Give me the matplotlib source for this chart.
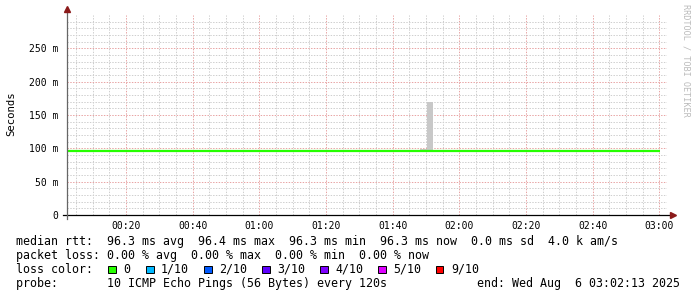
#!/usr/bin/env python3
"""SmokePing style latency chart (rrdtool look)."""

from datetime import datetime

import matplotlib

matplotlib.use("Agg")
import matplotlib.dates as mdates
import matplotlib.pyplot as plt
import numpy as np
from matplotlib.patches import Rectangle
from matplotlib.ticker import FixedLocator, FuncFormatter

DAY = "2025-08-06 "

# data window (3 hours ending at the graph end time)
window = ["00:02:13", "03:02:13"]

# median rtt line (seconds)
median_times = ["00:02:13", "03:00:13"]
median_rtt = [0.0963, 0.0963]

# smoke (min / max ping per 120 s step, seconds)
smoke_times = ["01:48:13", "01:50:13", "01:52:13"]
smoke_lo = [0.0963, 0.0963, 0.0963]
smoke_hi = [0.0990, 0.1695, 0.0963]

loss_labels = ["0", "1/10", "2/10", "3/10", "4/10", "5/10", "9/10"]
loss_colors = ["#26ff00", "#00b8ff", "#0059ff", "#5e00ff", "#7e00ff", "#dd00ff", "#ff0000"]

rows = [
    "median rtt:  96.3 ms avg  96.4 ms max  96.3 ms min  96.3 ms now  0.0 ms sd  4.0 k am/s",
    "packet loss: 0.00 % avg  0.00 % max  0.00 % min  0.00 % now",
    "loss color:",
    "probe:       10 ICMP Echo Pings (56 Bytes) every 120s",
]
end_text = "end: Wed Aug  6 03:02:13 2025"


def to_dt(values):
    return [datetime.strptime(DAY + v, "%Y-%m-%d %H:%M:%S") for v in values]


W, H = 697, 297
MONO = "DejaVu Sans Mono"


def fx(px):
    return px / W


def fy(py):
    return 1 - py / H


fig = plt.figure(figsize=(W / 100, H / 100), dpi=100)
fig.patch.set_facecolor("white")
ax = fig.add_axes([fx(66.7), fy(215), 600 / W, 200 / H])

x0, x1 = to_dt(window)
ax.set_xlim(x0, x1)
ax.set_ylim(0, 0.3)

# grid (rrdtool leaves out the line on the top edge)
ax.xaxis.set_major_locator(mdates.MinuteLocator(byminute=[0, 20, 40]))
ax.xaxis.set_minor_locator(mdates.MinuteLocator(byminute=range(0, 60, 5)))
ax.xaxis.set_major_formatter(mdates.DateFormatter("%H:%M"))
ax.yaxis.set_major_locator(FixedLocator(np.arange(0, 0.26, 0.05)))
ax.yaxis.set_minor_locator(FixedLocator(np.arange(0.01, 0.295, 0.01)))
ax.yaxis.set_major_formatter(
    FuncFormatter(lambda v, p: "0" if abs(v) < 1e-9 else f"{v * 1000:.0f} m")
)
dots = (0, (1.4, 1.4))
ax.grid(which="minor", color="#cfcfcf", lw=0.72, linestyle=dots)
ax.grid(which="major", color="#e8a4a4", lw=0.72, linestyle=dots)
ax.set_axisbelow(True)

for s in ax.spines.values():
    s.set_visible(False)
ax.tick_params(which="both", length=0)
ax.tick_params(axis="x", which="major", pad=4, labelsize=7)
ax.tick_params(axis="y", which="major", pad=6, labelsize=7)
for lab in ax.get_xticklabels() + ax.get_yticklabels():
    lab.set_family(MONO)

# smoke and median
st = to_dt(smoke_times)
ax.fill_between(st, smoke_lo, smoke_hi, step="post", color="#c8c8c8", lw=0, zorder=2)
ax.plot(to_dt(median_times), median_rtt, color=loss_colors[0], lw=1.6,
        solid_capstyle="butt", zorder=3)

# axis lines with arrows
ax.plot([-4 / 600, 1 + 5 / 600], [0, 0], transform=ax.transAxes, color="black",
        lw=0.9, clip_on=False, zorder=4)
ax.plot([0, 0], [-4 / 200, 1 + 5 / 200], transform=ax.transAxes, color="#666666",
        lw=0.9, clip_on=False, zorder=4)
ax.plot([1 + 6 / 600], [0], marker=">", ms=4, color="#8b1a1a", mec="#8b1a1a",
        transform=ax.transAxes, clip_on=False, zorder=5)
ax.plot([0], [1 + 6 / 200], marker="^", ms=4, color="#8b1a1a", mec="#8b1a1a",
        transform=ax.transAxes, clip_on=False, zorder=5)

fig.text(fx(11), fy(114), "Seconds", rotation=90, ha="center", va="center",
         family=MONO, fontsize=7.7)
fig.text(fx(686), fy(4), "RRDTOOL / TOBI OETIKER", rotation=270, ha="center",
         va="top", family=MONO, fontsize=6.1, color="#bbbbbb")

# legend rows
row_y = [245, 259, 273, 287]
for text, y in zip(rows, row_y):
    fig.text(fx(16), fy(y), text, ha="left", va="baseline", family=MONO, fontsize=8.35)
fig.text(fx(680), fy(row_y[3]), end_text, ha="right", va="baseline", family=MONO,
         fontsize=8.35)

box_x = [108, 146, 204, 262, 320, 378, 436]
for bx, label, color in zip(box_x, loss_labels, loss_colors):
    fig.patches.append(Rectangle((fx(bx), fy(273.3)), 7.5 / W, 7.5 / H,
                                 transform=fig.transFigure, facecolor=color,
                                 edgecolor="black", lw=0.7))
    fig.text(fx(bx + 15), fy(row_y[2]), label, ha="left", va="baseline", family=MONO,
             fontsize=8.35)

fig.savefig("out.png", dpi=100)
